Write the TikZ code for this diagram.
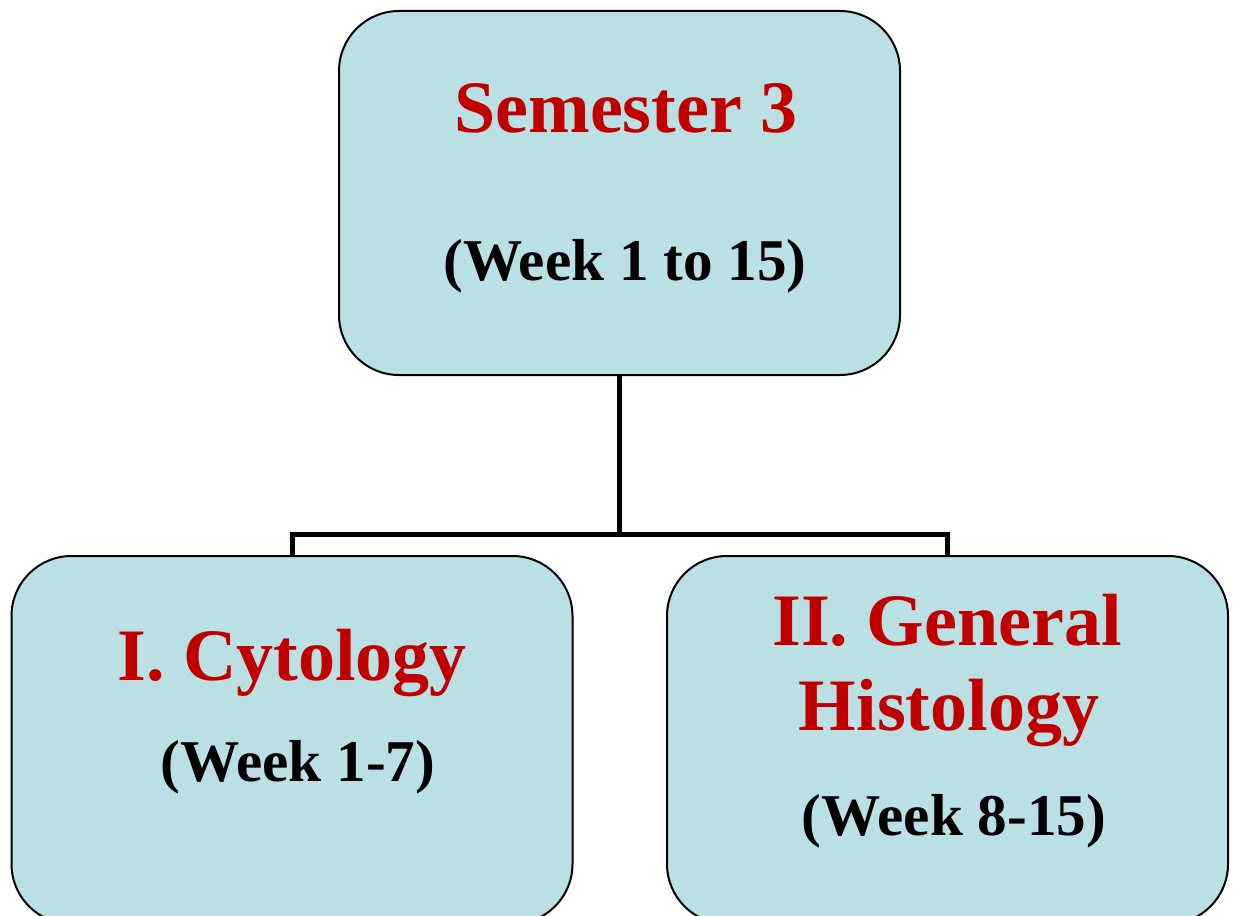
\documentclass[tikz,border=0pt]{standalone}
\usepackage{fontspec}
\setmainfont{Liberation Serif}
\usepackage{xcolor}
\usepackage{tikz}
\usetikzlibrary{positioning}
\definecolor{semfill}{HTML}{BAE0E3}
\definecolor{semred}{HTML}{C00000}

\begin{document}
\begin{tikzpicture}[x=0.5pt,y=-0.5pt,
  box/.style={rounded corners=30pt,draw=black,fill=semfill,line width=1pt,minimum width=280.5pt,inner sep=0pt},
  title/.style={text=semred,font=\fontsize{37}{40}\selectfont\bfseries,anchor=base,inner sep=0pt},
  weeks/.style={text=black,font=\fontsize{29.6}{32}\selectfont\bfseries,anchor=base,inner sep=0pt},
  conn/.style={line width=2.5pt,line join=miter}]
  \useasboundingbox (0,0) rectangle (1236,915);
  \node[box,minimum height=182pt] (sem) at (619.5,193) {};
  \node[box,minimum height=184pt] (cyto) at (292,740) {};
  \node[box,minimum height=184pt] (histo) at (947.5,740) {};
  \coordinate (fork) at (619.5,534);
  \draw[conn] (sem.south) -- (fork);
  \draw[conn] (cyto.north) |- (fork) -| (histo.north);
  \node[title] (semt) at (626,133) {Semester 3};
  \node[weeks] (semw) at (625,280) {(Week 1 to 15)};
  \node[title] (cytot) at (292,680) {I. Cytology};
  \node[weeks] (cytow) at (298,781) {(Week 1-7)};
  \node[title] (histot) at (947,645) {II. General};
  \node[title] (histot2) at (949,730) {Histology};
  \node[weeks] (histow) at (954,835) {(Week 8-15)};
\end{tikzpicture}
\end{document}
